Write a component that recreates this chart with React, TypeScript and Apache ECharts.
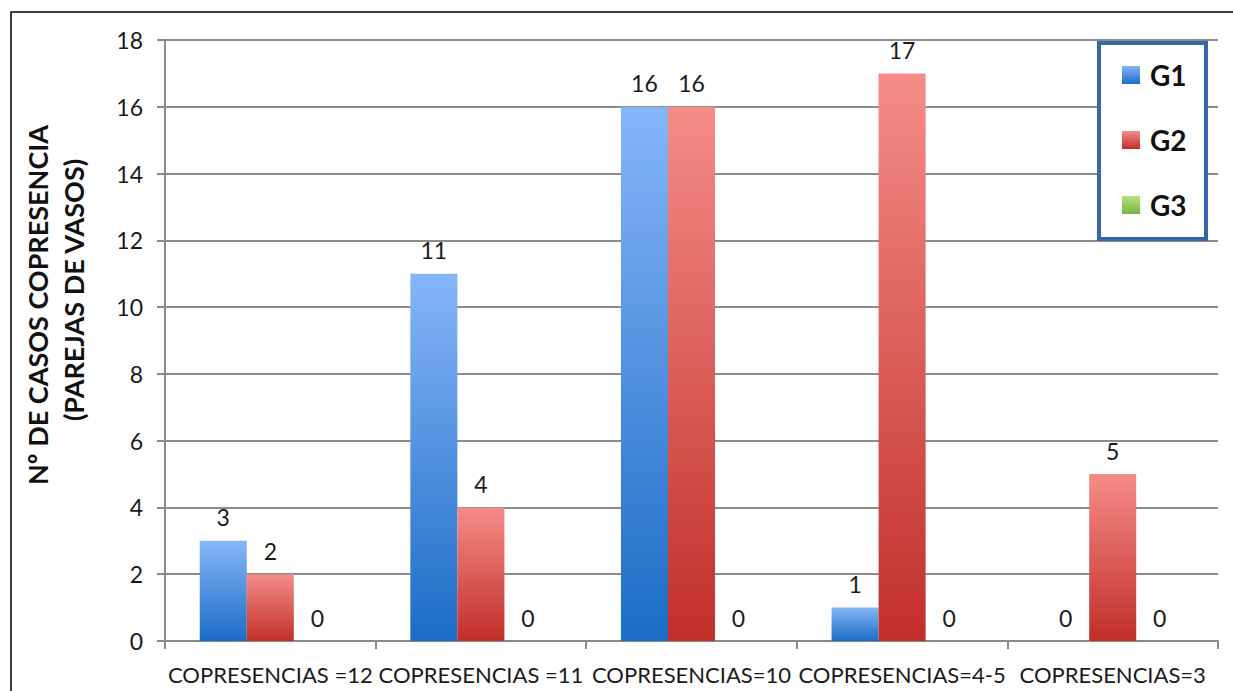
import React, { useEffect, useRef } from "react";
import * as echarts from "echarts";

const categories = [
  "COPRESENCIAS =12",
  "COPRESENCIAS =11",
  "COPRESENCIAS=10",
  "COPRESENCIAS=4-5",
  "COPRESENCIAS=3",
];
const g1Values = [3, 11, 16, 1, 0];
const g2Values = [2, 4, 16, 17, 5];
const g3Values = [0, 0, 0, 0, 0];
const seriesNames = ["G1", "G2", "G3"];
const yTitleLine1 = "Nº DE CASOS COPRESENCIA";
const yTitleLine2 = "(PAREJAS DE VASOS)";

const FONT = "Lato, 'Open Sans', sans-serif";

function grad(top: string, bottom: string) {
  return new echarts.graphic.LinearGradient(0, 0, 0, 1, [
    { offset: 0, color: top },
    { offset: 1, color: bottom },
  ]);
}

export default function App() {
  const ref = useRef<HTMLDivElement>(null);
  useEffect(() => {
    document.body.style.margin = "0";
    if (!ref.current) return;
    const chart = echarts.init(ref.current, undefined, { renderer: "svg" });
    const label = {
      show: true,
      position: "top",
      distance: 12,
      color: "#1a1a1a",
      fontFamily: FONT,
      fontSize: 23,
    };
    const colors = [
      grad("#86b6f8", "#1b6cc6"),
      grad("#f58c88", "#c12f29"),
      grad("#b9e37f", "#76b444"),
    ];
    const data = [g1Values, g2Values, g3Values];
    chart.setOption({
      animation: false,
      backgroundColor: "#ffffff",
      grid: { left: 165, right: 15, top: 40, bottom: 50, containLabel: false },
      xAxis: {
        type: "category",
        data: categories,
        axisLine: { lineStyle: { color: "#8a8a8a", width: 2 } },
        axisTick: { show: true, length: 8, lineStyle: { color: "#8a8a8a", width: 2 } },
        axisLabel: {
          color: "#1a1a1a",
          fontFamily: FONT,
          fontSize: 22,
          margin: 22,
          interval: 0,
        },
      },
      yAxis: {
        type: "value",
        min: 0,
        max: 18,
        interval: 2,
        axisLine: { show: true, lineStyle: { color: "#8a8a8a", width: 2 } },
        axisTick: { show: true, length: 8, lineStyle: { color: "#8a8a8a", width: 2 } },
        splitLine: { lineStyle: { color: "#8c8c8c", width: 2 } },
        axisLabel: {
          color: "#1a1a1a",
          fontFamily: FONT,
          fontSize: 23,
          margin: 22,
        },
      },
      legend: {
        orient: "vertical",
        left: 1122,
        top: 61,
        padding: 0,
        itemWidth: 18,
        itemHeight: 18,
        itemGap: 37,
        icon: "rect",
        z: 10,
        data: seriesNames,
        textStyle: {
          fontFamily: FONT,
          fontSize: 28,
          fontWeight: "bold",
          color: "#111111",
          lineHeight: 28,
          padding: [0, 0, 0, 5],
        },
      },
      graphic: [
        {
          type: "rect",
          z: 5,
          shape: { x: 1099, y: 43, width: 107, height: 196 },
          style: { fill: "#ffffff", stroke: "#3567a9", lineWidth: 4 },
        },
        {
          type: "polyline",
          z: 5,
          shape: { points: [[11, 691], [11, 12], [1233, 12]] },
          style: { stroke: "#000000", lineWidth: 1.5, fill: "none" },
        },
        {
          type: "text",
          x: 37,
          y: 305,
          rotation: Math.PI / 2,
          style: {
            text: yTitleLine1,
            fontFamily: FONT,
            fontSize: 27,
            fontWeight: "bold",
            fill: "#111111",
            textAlign: "center",
            textVerticalAlign: "middle",
          },
        },
        {
          type: "text",
          x: 73,
          y: 290,
          rotation: Math.PI / 2,
          style: {
            text: yTitleLine2,
            fontFamily: FONT,
            fontSize: 27,
            fontWeight: "bold",
            fill: "#111111",
            textAlign: "center",
            textVerticalAlign: "middle",
          },
        },
      ],
      series: seriesNames.map((name, i) => ({
        name,
        type: "bar",
        data: data[i],
        barGap: "0%",
        barCategoryGap: "33%",
        itemStyle: { color: colors[i] },
        label,
      })),
    });
    return () => chart.dispose();
  }, []);
  return <div ref={ref} style={{ width: 1233, height: 691 }} />;
}
